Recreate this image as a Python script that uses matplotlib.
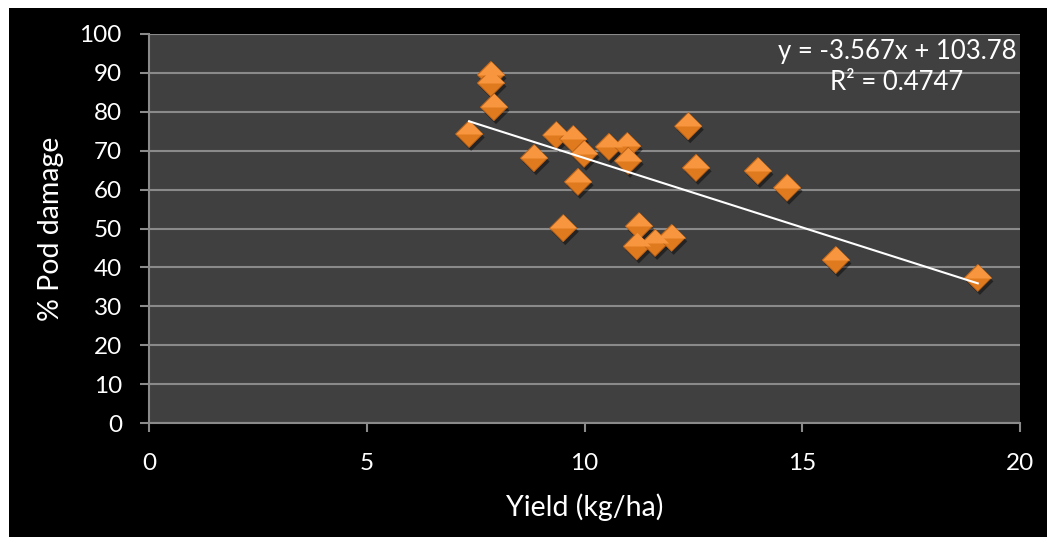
import matplotlib
matplotlib.use("Agg")
import matplotlib.pyplot as plt
import matplotlib.patheffects as pe
from matplotlib.patches import Rectangle

plt.rcParams['font.family'] = ['Lato', 'DejaVu Sans']

# yield (kg/ha) vs % pod damage
yield_kg = [7.35, 7.85, 7.85, 7.92, 8.84, 9.35, 9.51, 9.74, 9.85, 9.99,
            10.56, 10.98, 11.0, 11.2, 11.25, 11.62, 12.0, 12.38, 12.56,
            13.98, 14.65, 15.77, 19.03]
pod_damage = [74.3, 89.5, 87.4, 81.2, 68.1, 74.0, 50.1, 73.0, 62.0, 69.2,
              71.0, 71.2, 67.4, 45.4, 50.6, 46.3, 47.6, 76.3, 65.6,
              64.8, 60.5, 41.9, 37.3]

# trendline as printed on the chart
slope, intercept = -3.567, 103.78
eq_text = "y = -3.567x + 103.78\nR\u00b2 = 0.4747"

x_ticks = [0, 5, 10, 15, 20]
y_ticks = list(range(0, 101, 10))

W, H = 1047, 537
fig = plt.figure(figsize=(W / 100, H / 100), dpi=100, facecolor='white')
fig.patches.append(Rectangle((9 / W, 0), 1, (H - 8) / H, transform=fig.transFigure,
                             facecolor='black', edgecolor='none', zorder=-5))

ax = fig.add_axes([149 / W, (H - 423) / H, (1020 - 149) / W, (423 - 34) / H])
ax.set_zorder(2)
ax.set_facecolor('#404040')
ax.set_xlim(0, 20)
ax.set_ylim(0, 100)
ax.set_xticks(x_ticks)
ax.set_yticks(y_ticks)
ax.grid(axis='y', color='#8a8a8a', linewidth=1.5)
ax.set_axisbelow(True)
for s in ['top', 'right']:
    ax.spines[s].set_visible(False)
for s in ['left', 'bottom']:
    ax.spines[s].set_color('#8a8a8a')
    ax.spines[s].set_linewidth(1.5)
ax.tick_params(colors='#8a8a8a', labelcolor='white', labelsize=17.5, width=1.5, length=6.5)
ax.tick_params(axis='x', pad=15)
ax.tick_params(axis='y', pad=13)

# markers: full diamond (darker lower half) + lighter upper half
diamond = [(-1, 0), (0, 1), (1, 0), (0, -1), (-1, 0)]
upper = [(-1, 0), (0, 1), (1, 0), (0, 0.0), (-1, 0)]
ax.plot(yield_kg, pod_damage, linestyle='none', marker=diamond, markersize=19.5,
        markerfacecolor='#E07A1E', markeredgecolor='#B8611A', markeredgewidth=0.6,
        zorder=3, path_effects=[pe.SimplePatchShadow(offset=(1.5, -2.5), shadow_rgbFace='black', alpha=0.45),
                                pe.Normal()])
ax.plot(yield_kg, pod_damage, linestyle='none', marker=upper, markersize=19.5,
        markerfacecolor='#F7963E', markeredgecolor='none', zorder=4)

x0, x1 = min(yield_kg), max(yield_kg)
ax.plot([x0, x1], [slope * x0 + intercept, slope * x1 + intercept],
        color='white', linewidth=1.5, zorder=5)

ax.text(897 / W, (H - 67) / H, eq_text, transform=fig.transFigure, ha='center', va='center',
        color='white', fontsize=18.5, linespacing=1.35)

ax.set_xlabel('Yield (kg/ha)', color='white', fontsize=20.5, labelpad=14)
ax.set_ylabel('% Pod damage', color='white', fontsize=20.5, labelpad=11)

fig.savefig('out.png', dpi=100, facecolor=fig.get_facecolor())
